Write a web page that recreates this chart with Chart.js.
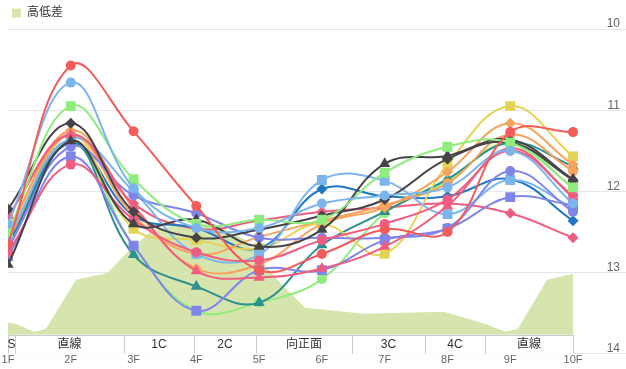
<!DOCTYPE html>
<html><head><meta charset="utf-8">
<script src="https://cdn.jsdelivr.net/npm/chart.js@4/dist/chart.umd.min.js"></script>
<style>html,body{margin:0;padding:0;background:#fff;}#wrap{width:626px;height:369px;}</style>
</head><body><div id="wrap"><canvas id="c" width="626" height="369"></canvas></div>
<script>
// ---------- data ----------
const categories = ['1F','2F','3F','4F','5F','6F','7F','8F','9F','10F'];
const yTickValues = [10, 11, 12, 13, 14];

// course sections (start/end in furlong units from 1F)
const sectionNames = ['S','直線','1C','2C','向正面','3C','4C','直線'];
const sectionBounds = [0, 0.11, 1.85, 2.96, 3.95, 5.48, 6.64, 7.6, 9.0];

// elevation profile (高低差)
const elevX = [0, 0.137, 0.414, 0.605, 1.083, 1.577, 1.864, 2.262, 2.66, 3.297, 3.775, 4.046, 4.349, 4.731, 5.671, 6.945, 7.598, 7.917, 8.124, 8.586, 9.0];
const elevY = [0.615, 0.535, 0.135, 0.3, 2.75, 3.085, 4.0, 5.15, 5.5, 5.55, 4.75, 3.65, 2.55, 1.35, 1.05, 1.15, 0.55, 0.15, 0.3, 2.75, 3.05];

// lap-time series (seconds per furlong)
const redCircle     = [12.65, 10.45, 11.26, 12.18, 12.97, 12.77, 12.47, 12.50, 11.27, 11.27];
const lblueCircle   = [12.40, 10.66, 11.96, 12.45, 12.45, 12.15, 12.05, 11.95, 11.50, 12.15];
const greenSquare   = [12.50, 10.95, 11.85, 12.40, 12.35, 12.35, 11.77, 11.45, 11.40, 11.95];
const darkDiamond   = [12.22, 11.16, 12.25, 12.57, 12.47, 12.30, 12.10, 11.60, 11.40, 11.86];
const darkTriangle  = [12.90, 11.38, 12.40, 12.35, 12.68, 12.47, 11.66, 11.56, 11.36, 11.85];
const pinkTriangle  = [12.30, 11.30, 12.18, 12.98, 13.06, 12.95, 12.68, 12.18, 11.47, 12.07];
const pinkCircle    = [12.75, 11.67, 12.35, 12.75, 12.85, 12.60, 12.40, 12.10, 11.50, 12.05];
const purpleSquare  = [12.80, 11.57, 12.67, 13.47, 12.97, 12.97, 12.60, 12.46, 12.07, 12.17];
const purpleCircle  = [12.70, 11.45, 12.05, 12.27, 12.57, 12.57, 12.57, 12.45, 11.75, 12.25];
const lblueSquare   = [12.55, 11.35, 12.00, 12.77, 12.78, 11.86, 11.87, 12.28, 11.86, 12.20];
const orangeCircle  = [12.60, 11.30, 12.30, 12.77, 12.56, 12.36, 12.17, 11.90, 11.30, 11.75];
const orangeDiamond = [12.50, 11.25, 12.20, 12.95, 12.90, 12.40, 12.20, 11.76, 11.16, 11.67];
const yellowSquare  = [12.45, 11.30, 12.46, 12.60, 12.70, 12.40, 12.77, 11.67, 10.95, 11.57];
const tealTriangle  = [12.60, 11.38, 12.78, 13.17, 13.37, 12.66, 12.25, 11.85, 11.40, 11.69];
const blueDiamond   = [12.65, 11.40, 12.30, 12.45, 12.70, 11.97, 12.06, 12.06, 11.85, 12.36];
const pinkDiamond   = [12.30, 11.30, 12.15, 12.46, 12.36, 12.25, 12.20, 12.15, 12.27, 12.57];
const greenCircle   = [12.55, 11.40, 12.67, 13.47, 13.37, 13.08, 12.27, 11.87, 11.40, 11.96];

// ---------- styles ----------
const seriesList = [
  [redCircle,     '#f45b5b', 'circle'],
  [lblueCircle,   '#7cb5ec', 'circle'],
  [greenSquare,   '#90ed7d', 'rect'],
  [darkDiamond,   '#434348', 'rectRot'],
  [darkTriangle,  '#434348', 'triangle'],
  [pinkTriangle,  '#f15c80', 'triangle'],
  [pinkCircle,    '#f15c80', 'circle'],
  [purpleSquare,  '#8085e9', 'rect'],
  [purpleCircle,  '#8085e9', 'circle'],
  [lblueSquare,   '#7cb5ec', 'rect'],
  [orangeCircle,  '#f7a35c', 'circle'],
  [orangeDiamond, '#f7a35c', 'rectRot'],
  [yellowSquare,  '#e4d354', 'rect'],
  [tealTriangle,  '#2b908f', 'triangle'],
  [blueDiamond,   '#1f78c1', 'rectRot'],
  [pinkDiamond,   '#f15c80', 'rectRot'],
  [greenCircle,   '#90ed7d', 'circle']
];
const radiusFor = {circle: 5, rect: 7, triangle: 6.5, rectRot: 5.5};
const AREA_COLOR = 'rgb(214,229,174)';
const FONT = '"Liberation Sans", Arial, "Noto Sans CJK JP", sans-serif';

const datasets = seriesList.map(([vals, color, style]) => ({
  type: 'line',
  data: vals.map((v, i) => ({x: i, y: v})),
  borderColor: color,
  backgroundColor: color,
  borderWidth: 2,
  pointStyle: style,
  pointRadius: radiusFor[style],
  pointBorderWidth: 0,
  pointBackgroundColor: color,
  tension: 0.4,
  fill: false,
  yAxisID: 'y',
  xAxisID: 'x'
}));
datasets.push({
  type: 'line',
  label: '高低差',
  data: elevX.map((x, i) => ({x: x, y: elevY[i]})),
  borderWidth: 0,
  borderColor: AREA_COLOR,
  backgroundColor: AREA_COLOR,
  pointRadius: 0,
  tension: 0,
  fill: 'origin',
  yAxisID: 'yArea',
  xAxisID: 'x'
});
const areaIndex = datasets.length - 1;

const sectionPlugin = {
  id: 'sections',
  afterDatasetsDraw(chart) {
    const {ctx, scales: {x, y}} = chart;
    const top = y.getPixelForValue(13.765);
    const bottom = y.getPixelForValue(14);
    const left = x.getPixelForValue(sectionBounds[0]);
    const right = x.getPixelForValue(sectionBounds[sectionBounds.length - 1]);
    ctx.save();
    ctx.fillStyle = '#ffffff';
    ctx.fillRect(left, top, right - left, bottom - top);
    ctx.strokeStyle = '#cccccc';
    ctx.lineWidth = 1;
    ctx.beginPath();
    ctx.moveTo(left, Math.round(top) + 0.5); ctx.lineTo(right, Math.round(top) + 0.5);
    sectionBounds.forEach(b => {
      const px = Math.round(x.getPixelForValue(b)) + 0.5;
      ctx.moveTo(px, top); ctx.lineTo(px, bottom);
    });
    ctx.stroke();
    ctx.fillStyle = '#333333';
    ctx.font = '12px ' + FONT;
    ctx.textAlign = 'center';
    ctx.textBaseline = 'middle';
    sectionNames.forEach((name, i) => {
      const a = x.getPixelForValue(sectionBounds[i]);
      const b = x.getPixelForValue(sectionBounds[i + 1]);
      ctx.save();
      ctx.beginPath(); ctx.rect(a, top, b - a, bottom - top); ctx.clip();
      ctx.fillText(name, (a + b) / 2, (top + bottom) / 2 + 0.5);
      ctx.restore();
    });
    ctx.restore();
  }
};

const legendSpacer = {
  id: 'legendSpacer',
  afterInit(chart) {
    const orig = chart.legend.fit;
    chart.legend.fit = function () { orig.call(this); this.height = 26; };
  }
};

new Chart(document.getElementById('c'), {
  data: {datasets},
  plugins: [legendSpacer, sectionPlugin],
  options: {
    responsive: false,
    animation: false,
    devicePixelRatio: 1,
    layout: {autoPadding: false, padding: {left: 8, right: 0, top: 3, bottom: 2}},
    plugins: {
      legend: {
        display: true,
        position: 'top',
        align: 'start',
        labels: {
          boxWidth: 9, boxHeight: 9, padding: 4,
          color: '#333333',
          font: {size: 12, family: FONT},
          filter: item => item.datasetIndex === areaIndex
        },
        onClick: null
      },
      tooltip: {enabled: false}
    },
    scales: {
      x: {
        type: 'linear',
        position: 'bottom',
        min: 0,
        max: 9.844,
        afterBuildTicks(scale) { scale.ticks = categories.map((c, i) => ({value: i})); },
        ticks: {
          callback: (v) => categories[v],
          color: '#666666',
          font: {size: 11, family: FONT},
          padding: 0,
          maxRotation: 0,
          autoSkip: false
        },
        grid: {display: false, drawTicks: false},
        border: {display: false}
      },
      y: {
        type: 'linear',
        position: 'right',
        reverse: true,
        min: 10,
        max: 14,
        afterBuildTicks(scale) { scale.ticks = yTickValues.map(v => ({value: v})); },
        afterFit(scale) { scale.width = 0; },
        ticks: {
          mirror: true,
          padding: -6,
          labelOffset: -5,
          color: '#666666',
          font: {size: 12, family: FONT}
        },
        grid: {color: '#e6e6e6', lineWidth: 1, drawTicks: false},
        border: {display: false}
      },
      yArea: {
        type: 'linear',
        display: false,
        min: -0.95,
        max: 15.3
      }
    }
  }
});
</script>
</body></html>
